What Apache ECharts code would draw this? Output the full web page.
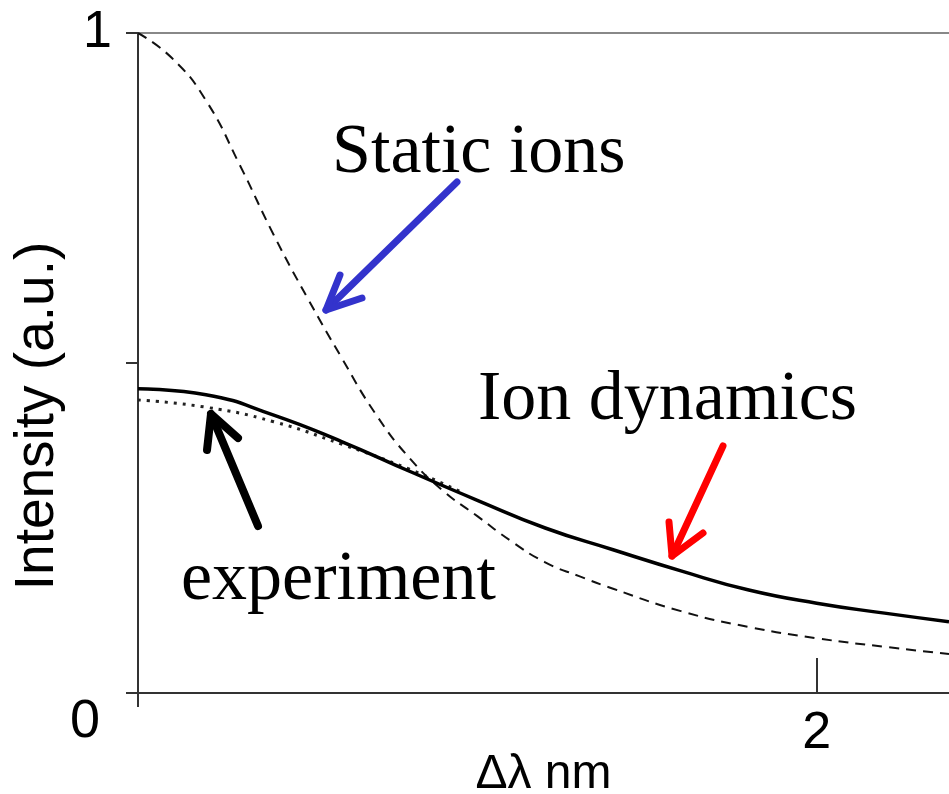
<!doctype html>
<html lang="en">
<head>
    <meta charset="utf-8" />
    <title>Line profile</title>
    <script src="https://cdn.jsdelivr.net/npm/echarts@6/dist/echarts.min.js"></script>
    <style type="text/css">
        html, body { margin: 0; padding: 0; background: #fff; }
        #chart { width: 949px; height: 794px; }
    </style>
</head>
<body>
<div id="chart"></div>
<script>
    /* data: x in nm, y in a.u. */
    var staticX = [0, 0.1, 0.2, 0.3, 0.4, 0.5, 0.6, 0.7, 0.8, 0.9, 1.0, 1.1, 1.2, 1.3, 1.4, 1.6, 1.8, 2.0, 2.2, 2.39];
    var staticY = [1.0, 0.962, 0.898, 0.800, 0.694, 0.598, 0.508, 0.423, 0.356, 0.306, 0.268, 0.230, 0.198, 0.177, 0.158, 0.124, 0.100, 0.083, 0.070, 0.059];

    var dynX = [0, 0.2, 0.4, 0.6, 0.8, 1.0, 1.2, 1.4, 1.6, 1.8, 2.0, 2.2, 2.39];
    var dynY = [0.461, 0.452, 0.421, 0.381, 0.336, 0.292, 0.250, 0.217, 0.185, 0.156, 0.136, 0.121, 0.108];

    var expX = [0, 0.2, 0.4, 0.6, 0.8, 0.95];
    var expY = [0.444, 0.433, 0.411, 0.377, 0.339, 0.305];

    var xTickLabels = ['2'];
    var yTickLabels = ['1'];

    function zip(xs, ys) {
        var out = [];
        for (var i = 0; i < xs.length; i++) {
            out.push([xs[i], ys[i]]);
        }
        return out;
    }

    var sans = 'Liberation Sans, Arial, sans-serif';
    var serif = 'Liberation Serif, Times New Roman, serif';

    var chart = echarts.init(document.getElementById('chart'));

    var option = {
        animation: false,
        backgroundColor: '#fff',
        grid: { left: 138, right: 0, top: 33, bottom: 101, outerBoundsMode: 'none', containLabel: false },
        xAxis: [{
            type: 'value',
            min: 0,
            max: 2.39,
            interval: 2,
            axisLine: { lineStyle: { color: '#333', width: 2 } },
            axisTick: { inside: true, length: 35, lineStyle: { color: '#333', width: 2 } },
            splitLine: { show: false },
            axisLabel: {
                margin: 15,
                fontFamily: sans,
                fontSize: 52,
                color: '#000',
                showMaxLabel: false,
                formatter: function (v) {
                    return xTickLabels.indexOf(String(v)) >= 0 ? String(v) : '';
                }
            },
            name: 'Δλ nm',
            nameLocation: 'middle',
            nameGap: 58,
            nameMoveOverlap: false,
            nameTextStyle: { fontFamily: sans, fontSize: 48, color: '#000' }
        }, {
            type: 'value',
            position: 'top',
            min: 0,
            max: 2.39,
            axisLine: { show: true, lineStyle: { color: '#888', width: 2 } },
            axisTick: { show: false },
            axisLabel: { show: false },
            splitLine: { show: false }
        }],
        yAxis: {
            type: 'value',
            min: 0,
            max: 1,
            interval: 0.5,
            axisLine: { show: true, lineStyle: { color: '#333', width: 2 } },
            axisTick: { show: true, length: 12, lineStyle: { color: '#333', width: 2 } },
            splitLine: { show: false },
            axisLabel: {
                margin: 26,
                fontFamily: sans,
                fontSize: 52,
                color: '#000',
                formatter: function (v) {
                    return yTickLabels.indexOf(String(v)) >= 0 ? String(v) : '';
                }
            }
        },
        series: [{
            name: 'Static ions',
            type: 'line',
            smooth: true,
            symbol: 'none',
            data: zip(staticX, staticY),
            lineStyle: { color: '#111', width: 2, type: [10, 7] },
            z: 3
        }, {
            name: 'experiment',
            type: 'line',
            smooth: true,
            symbol: 'none',
            data: zip(expX, expY),
            lineStyle: { color: '#222', width: 3, type: [3, 6] },
            z: 2
        }, {
            name: 'Ion dynamics',
            type: 'line',
            smooth: true,
            symbol: 'none',
            data: zip(dynX, dynY),
            lineStyle: { color: '#000', width: 3.5 },
            z: 4
        }],
        graphic: [
            // y axis title
            {
                type: 'text', x: 38, y: 416, rotation: Math.PI / 2,
                style: { text: 'Intensity (a.u.)', fontFamily: sans, fontSize: 55, fill: '#000', align: 'center', verticalAlign: 'middle' }
            },
            // corner zero
            {
                type: 'text', x: 85, y: 722,
                style: { text: '0', fontFamily: sans, fontSize: 54, fill: '#000', align: 'center', verticalAlign: 'middle' }
            },
            // small stub below origin
            {
                type: 'line', shape: { x1: 138, y1: 693, x2: 138, y2: 707 },
                style: { stroke: '#333', lineWidth: 2 }
            },
            // annotations
            {
                type: 'text', x: 332, y: 154,
                style: { text: 'Static ions', fontFamily: serif, fontSize: 70, fill: '#000', align: 'left', verticalAlign: 'middle' }
            },
            {
                type: 'text', x: 478, y: 401,
                style: { text: 'Ion dynamics', fontFamily: serif, fontSize: 70, fill: '#000', align: 'left', verticalAlign: 'middle' }
            },
            {
                type: 'text', x: 181, y: 581,
                style: { text: 'experiment', fontFamily: serif, fontSize: 70, fill: '#000', align: 'left', verticalAlign: 'middle' }
            },
            // blue arrow
            {
                type: 'polyline', shape: { points: [[457, 182], [326, 310]] },
                style: { stroke: '#3333cc', lineWidth: 7, lineCap: 'round' }
            },
            {
                type: 'polyline', shape: { points: [[340, 275], [326, 310], [362, 298]] },
                style: { stroke: '#3333cc', lineWidth: 7, lineCap: 'round', lineJoin: 'round', fill: null }
            },
            // red arrow
            {
                type: 'polyline', shape: { points: [[723, 446], [672, 556]] },
                style: { stroke: '#ff0000', lineWidth: 7, lineCap: 'round' }
            },
            {
                type: 'polyline', shape: { points: [[669, 522], [672, 556], [703, 533]] },
                style: { stroke: '#ff0000', lineWidth: 7, lineCap: 'round', lineJoin: 'round', fill: null }
            },
            // black arrow
            {
                type: 'polyline', shape: { points: [[258, 526], [211, 414]] },
                style: { stroke: '#000', lineWidth: 8, lineCap: 'round' }
            },
            {
                type: 'polyline', shape: { points: [[207, 450], [211, 414], [238, 438]] },
                style: { stroke: '#000', lineWidth: 8, lineCap: 'round', lineJoin: 'round', fill: null }
            }
        ]
    };

    chart.setOption(option);
</script>
</body>
</html>
